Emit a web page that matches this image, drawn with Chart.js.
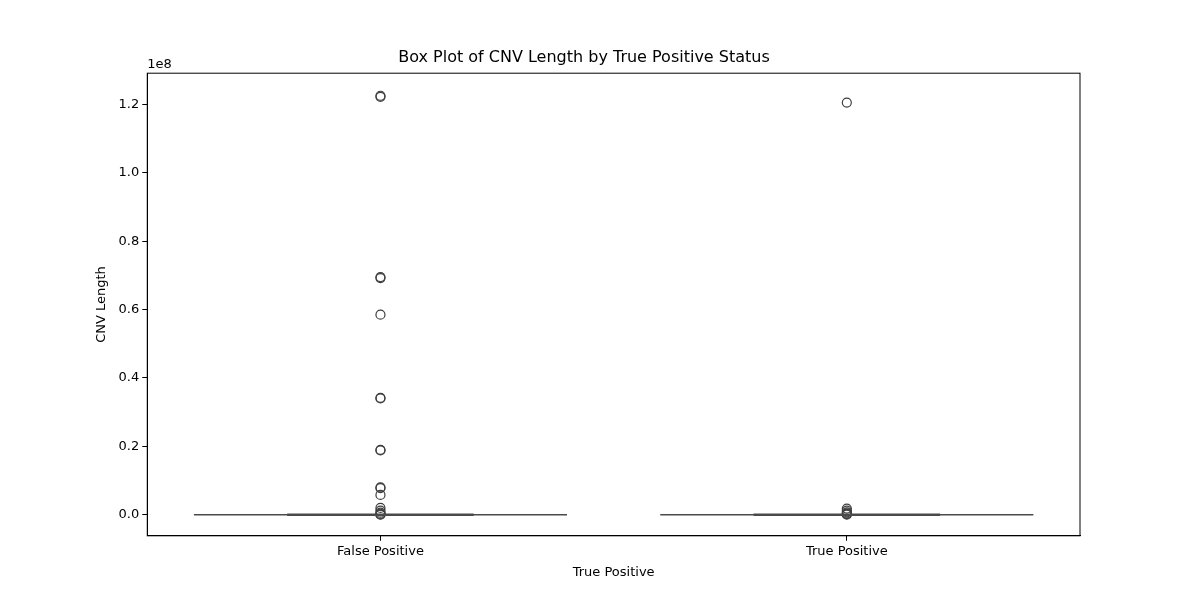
<!DOCTYPE html>
<html>
<head>
<meta charset="utf-8">
<script src="https://cdn.jsdelivr.net/npm/chart.js@4"></script>
<style>
  body { margin: 0; background: #fff; }
  #wrap { width: 1200px; height: 600px; }
</style>
</head>
<body>
<div id="wrap"><canvas id="c"></canvas></div>
<script>
const categories = ["False Positive", "True Positive"];
// box stats (q1, median, q3 all ~0; whiskers ~0)
const medians = [0, 0];
const q1 = [0, 0];
const q3 = [0, 0];
// outliers, in units of CNV length
const fpOutliers = [1.225e8, 1.222e8, 0.695e8, 0.692e8, 0.585e8, 0.342e8, 0.34e8, 0.19e8, 0.188e8,
  0.08e8, 0.078e8, 0.058e8, 0.02e8, 0.012e8, 0.006e8, 0.003e8, 0.001e8, 0];
const tpOutliers = [1.205e8, 0.018e8, 0.012e8, 0.007e8, 0.004e8, 0.002e8, 0];
const yTicks = [0, 0.2e8, 0.4e8, 0.6e8, 0.8e8, 1.0e8, 1.2e8];

const capHalf = 0.4, boxHalf = 0.2;
const lineColor = "#4a4a4a";

const datasets = [];
categories.forEach((c, i) => {
  datasets.push({ type: "line", data: [{x: i - capHalf, y: medians[i]}, {x: i + capHalf, y: medians[i]}],
    borderColor: lineColor, borderWidth: 1.5, pointRadius: 0 });
  datasets.push({ type: "line", data: [{x: i - boxHalf, y: q1[i]}, {x: i + boxHalf, y: q3[i]}],
    borderColor: lineColor, borderWidth: 2.5, pointRadius: 0 });
});
[fpOutliers, tpOutliers].forEach((arr, i) => {
  datasets.push({ type: "scatter", data: arr.map(v => ({x: i, y: v})),
    pointRadius: 4.5, pointBorderWidth: 1.2, pointBorderColor: "#3d3d3d",
    pointBackgroundColor: "rgba(0,0,0,0)" });
});

const frame = {
  id: "frame",
  afterDraw(chart) {
    const {ctx, chartArea: a} = chart;
    ctx.save();
    ctx.strokeStyle = "#000"; ctx.lineWidth = 1;
    ctx.strokeRect(a.left, a.top, a.right - a.left, a.bottom - a.top);
    ctx.fillStyle = "#000"; ctx.font = "13px 'DejaVu Sans'";
    ctx.textBaseline = "bottom";
    ctx.fillText("1e8", a.left, a.top - 2);
    ctx.restore();
  }
};

new Chart(document.getElementById("c"), {
  data: { datasets },
  options: {
    responsive: true, maintainAspectRatio: false, animation: false,
    layout: { padding: { left: 88, right: 120, top: 20, bottom: 18 } },
    plugins: {
      legend: { display: false }, tooltip: { enabled: false },
      title: { display: true, text: "Box Plot of CNV Length by True Positive Status",
        color: "#000", font: { family: "DejaVu Sans", size: 16, weight: "normal" }, padding: { top: 28, bottom: 6 } }
    },
    scales: {
      x: { type: "linear", min: -0.5, max: 1.5,
        afterBuildTicks: s => { s.ticks = categories.map((c, i) => ({ value: i })); },
        ticks: { callback: v => categories[v], color: "#000", font: { family: "DejaVu Sans", size: 13 } },
        grid: { drawOnChartArea: false, color: "#000", tickLength: 5 },
        border: { color: "#000" },
        title: { display: true, text: "True Positive", color: "#000", font: { family: "DejaVu Sans", size: 13 }, padding: 2 } },
      y: { min: -0.0615e8, max: 1.291e8,
        afterBuildTicks: s => { s.ticks = yTicks.map(v => ({ value: v })); },
        ticks: { callback: v => (v / 1e8).toFixed(1), color: "#000", font: { family: "DejaVu Sans", size: 13 } },
        grid: { drawOnChartArea: false, color: "#000", tickLength: 5 },
        border: { color: "#000" },
        title: { display: true, text: "CNV Length", color: "#000", font: { family: "DejaVu Sans", size: 13 }, padding: 6 } }
    }
  },
  plugins: [frame]
});
</script>
</body>
</html>
